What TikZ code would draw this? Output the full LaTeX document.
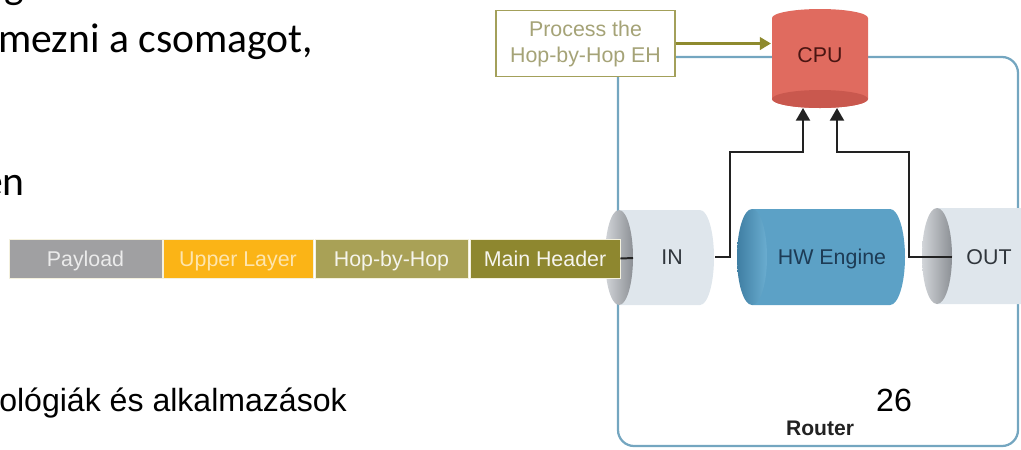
\documentclass[tikz,border=0pt]{standalone}
\usepackage{fontspec}
\setmainfont{Liberation Sans}
\newfontfamily\slidefont{Carlito}
\usepackage{tikz}
\usetikzlibrary{arrows.meta}

\definecolor{grayPL}{HTML}{A0A0A2}
\definecolor{orangeUL}{HTML}{FBB416}
\definecolor{oliveHH}{HTML}{A9A156}
\definecolor{oliveMH}{HTML}{8E872F}
\definecolor{pktedge}{HTML}{F4F1DE}
\definecolor{procedge}{HTML}{A3A05A}
\definecolor{proctext}{HTML}{A5A377}
\definecolor{hharrow}{HTML}{8E8A2E}
\definecolor{routerline}{HTML}{74A6C0}
\definecolor{cpubody}{HTML}{E06B5F}
\definecolor{cpubottom}{HTML}{C9584E}
\definecolor{cputext}{HTML}{4A1512}
\definecolor{bufbody}{HTML}{DFE6EC}
\definecolor{capL}{HTML}{D2D5D9}
\definecolor{capR}{HTML}{8C9095}
\definecolor{hwbody}{HTML}{5CA1C6}
\definecolor{hwcapL}{HTML}{3F7EA3}
\definecolor{hwcapR}{HTML}{6AADD0}
\definecolor{hwtext}{HTML}{1D3B55}
\definecolor{buftext}{HTML}{30363C}
\definecolor{wirecol}{HTML}{222222}

\begin{document}
\begin{tikzpicture}[x=0.025cm,y=-0.025cm,
  pkt/.style={minimum height=0.975cm,inner sep=0pt,text height=10.7pt,text depth=0pt,draw=pktedge,line width=0.6pt,font=\fontsize{15.2}{18}\selectfont},
  lbl/.style={inner sep=0pt,text height=10.7pt,text depth=0pt,font=\fontsize{15.2}{18}\selectfont},
  wire/.style={line width=1.4pt,draw=wirecol},
  sig/.style={wire,-{Triangle[length=9pt,width=10pt]}},
  hhsig/.style={line width=1.8pt,draw=hharrow,-{Triangle[length=8pt,width=9pt]}},
  router/.style={line width=1.6pt,draw=routerline,rounded corners=0.4cm}]
\useasboundingbox (0,0) rectangle (1021,449);
% slide text behind the figure
\node[anchor=base west,inner sep=0pt,font=\slidefont\fontsize{29.6}{34}\selectfont] (gtail) at (4,-2) {g};
\node[anchor=base west,inner sep=0pt,font=\slidefont\fontsize{29.6}{34}\selectfont] (line1) at (-2,52) {mezni a csomagot,};
\node[anchor=base east,inner sep=0pt,font=\slidefont\fontsize{29.6}{34}\selectfont] (line2) at (25,195) {én};
\node[anchor=base west,inner sep=0pt,font=\fontsize{22.8}{26}\selectfont] (foot) at (-1,411) {ológiák és alkalmazások};
\node[anchor=base,inner sep=0pt,font=\fontsize{22.8}{26}\selectfont] (page) at (894,411) {26};
% router
\draw[router] (618,57) rectangle (1018,446);
\node[lbl,font=\fontsize{15}{18}\selectfont\bfseries,text=wirecol] (rt) at (820,428) {Router};
% IN buffer
\fill[bufbody] (619,210) -- (700,210) arc[start angle=-90,end angle=90,x radius=14,y radius=47.5] -- (619,305) -- cycle;
\shade[left color=capL,right color=capR] (619,257.5) ellipse[x radius=14,y radius=47.5];
\node[lbl,text=buftext] (in) at (672,257) {IN};
% HW engine
\fill[hwbody] (752,209) -- (890,209) arc[start angle=-90,end angle=90,x radius=15,y radius=48] -- (752,305) -- cycle;
\shade[left color=hwcapL,right color=hwcapR] (752,257) ellipse[x radius=15,y radius=48];
\node[lbl,text=hwtext] (hw) at (832,257) {HW Engine};
% OUT buffer
\fill[bufbody] (937,208) -- (1040,208) arc[start angle=-90,end angle=90,x radius=15,y radius=48] -- (937,304) -- cycle;
\shade[left color=capL,right color=capR] (937,256) ellipse[x radius=15,y radius=48];
\node[lbl,text=buftext] (out) at (989,257) {OUT};
% packet
\node[pkt,fill=grayPL,text=white!92!black,minimum width=3.825cm] (payload) at (85.5,258.5) {Payload};
\node[pkt,fill=orangeUL,text=orangeUL!35!white,minimum width=3.75cm] (upper) at (238,258.5) {Upper Layer};
\node[pkt,fill=oliveHH,text=oliveHH!12!white,minimum width=3.825cm] (hbh) at (391.5,258.5) {Hop-by-Hop};
\node[pkt,fill=oliveMH,text=oliveMH!8!white,minimum width=3.75cm] (mainh) at (545,258.5) {Main Header};
\coordinate (inL) at (633,258);
\draw[wire] (mainh.east) -- (inL);
% CPU
\fill[cpubody] (772,18) arc[start angle=180,end angle=360,x radius=48,y radius=9] -- (868,99) arc[start angle=0,end angle=180,x radius=48,y radius=9] -- cycle;
\fill[cpubottom] (820,99) ellipse[x radius=48,y radius=9];
\node[lbl,font=\fontsize{15.2}{18}\selectfont,text=cputext] (cpu) at (820,55) {CPU};
\coordinate (cpuW) at (771,43.5);
\coordinate (cpuA) at (803,108);
\coordinate (cpuB) at (837,108);
% paths to the CPU
\coordinate (inR) at (715,257);
\coordinate (outL) at (952,257);
\draw[sig] (inR) -| (730,152) -| (cpuA);
\draw[sig] (outL) -| (909,152) -| (cpuB);
% Hop-by-Hop processing
\node[draw=procedge,line width=1.4pt,fill=white,text=proctext,align=center,minimum width=4.45cm,minimum height=1.65cm,inner sep=0pt,font=\fontsize{15.2}{18.5}\selectfont] (proc) at (585.5,43.5) {Process the\\Hop-by-Hop EH};
\draw[hhsig] (proc.east) -- (cpuW);
\end{tikzpicture}
\end{document}
